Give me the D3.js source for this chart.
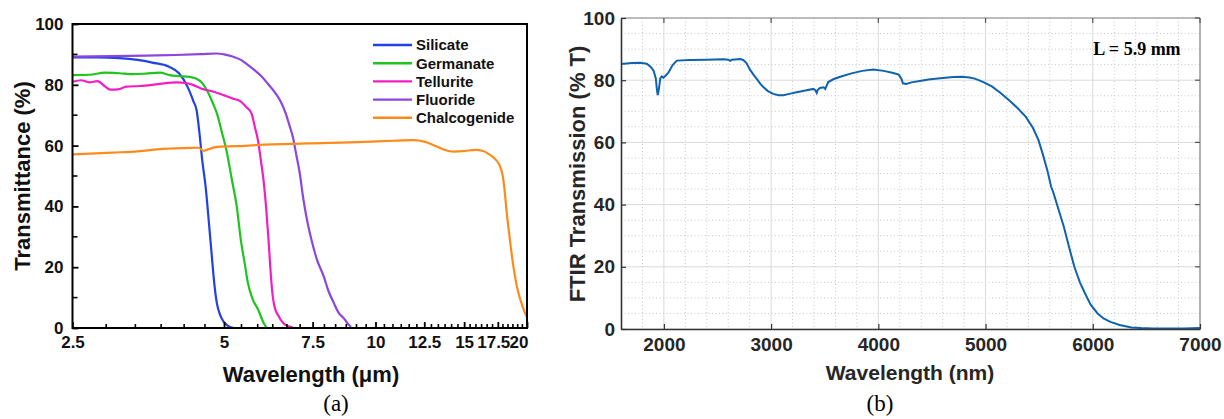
<!DOCTYPE html>
<html>
<head>
<meta charset="utf-8">
<script src="https://d3js.org/d3.v7.min.js"></script>
<style>
  body { margin: 0; background: #fff; }
  svg { display: block; }
  .lbl { font-family: "Liberation Sans", Arial, sans-serif; font-weight: bold; }
  .serif { font-family: "Liberation Serif", "Times New Roman", serif; }
</style>
</head>
<body>
<svg id="fig" width="1224" height="419"></svg>
<script>
// ---- panel (a): glass transmittance vs wavelength (um, %) ----
var silicate = [[2.5,89.0],[2.8,89.0],[3.1,88.8],[3.37,88.2],[3.6,87.3],[3.88,86.0],[4.07,83.8],[4.23,79.4],[4.35,74.5],[4.41,71.7],[4.47,64.0],[4.52,56],[4.6,46],[4.67,34],[4.73,23.5],[4.78,15],[4.84,8.1],[4.92,4],[4.99,2.1],[5.1,0.6],[5.23,0]];
var germanate = [[2.5,83.2],[2.7,83.3],[2.9,84.0],[3.1,83.8],[3.3,83.5],[3.5,83.7],[3.73,84.0],[3.9,83.2],[4.03,82.9],[4.28,82.6],[4.48,81.3],[4.62,78.3],[4.75,74],[4.84,70.6],[4.95,64.5],[5.07,57.5],[5.18,49],[5.3,40],[5.40,29],[5.5,21],[5.58,14.7],[5.7,9.5],[5.85,5.9],[5.98,2],[6.08,0]];
var tellurite = [[2.5,81.0],[2.6,81.5],[2.7,80.8],[2.8,81.2],[2.9,79.5],[2.97,78.4],[3.08,78.5],[3.2,79.4],[3.4,79.6],[3.6,80.0],[3.73,80.3],[4.03,80.8],[4.2,80.6],[4.35,79.9],[4.5,78.8],[4.75,77.8],[4.99,76.6],[5.2,75.5],[5.4,74.5],[5.55,72.5],[5.67,70.6],[5.76,66],[5.84,61.8],[5.92,55],[5.99,48.7],[6.06,40],[6.13,29],[6.18,20],[6.23,12.5],[6.3,7],[6.43,3.7],[6.6,1.2],[6.85,0.2]];
var fluoride = [[2.5,89.3],[3.0,89.4],[3.5,89.6],[4.0,89.8],[4.5,90.1],[4.84,90.3],[5.0,90.0],[5.2,89.3],[5.4,88.2],[5.55,86.8],[5.75,84.8],[5.94,82.7],[6.1,80.5],[6.33,77.2],[6.48,74.5],[6.63,70.6],[6.75,66.5],[6.85,62.9],[6.96,57],[7.07,51],[7.18,43],[7.3,36],[7.46,29],[7.65,22.5],[7.89,17],[8.05,12.5],[8.27,8.1],[8.45,5],[8.67,3.0],[8.8,1.5],[8.94,0.4]];
var chalcogenide = [[2.5,57.1],[3.0,57.7],[3.37,58.1],[3.77,58.9],[4.2,59.2],[4.45,59.3],[4.55,58.3],[4.62,58.6],[4.84,59.6],[5.3,59.8],[5.84,60.2],[7.3,60.7],[9.5,61.2],[10.8,61.6],[11.9,61.8],[12.5,61.3],[13.2,59.8],[13.9,58.3],[14.35,58.0],[15.0,58.2],[15.8,58.6],[16.3,58.3],[16.8,57.2],[17.35,55.3],[17.7,53],[17.9,50],[18.05,45.4],[18.2,39],[18.5,28.9],[18.8,20],[19.1,13.6],[19.6,7.0],[20,3.5]];
var glassNames = ["Silicate","Germanate","Tellurite","Fluoride","Chalcogenide"];
var glassColors = ["#2141e6","#1fc41f","#f21ec4","#8c46e0","#ff8a1c"];
var xTicksA = [2.5,5,7.5,10,12.5,15,17.5,20];
var yTicksA = [0,20,40,60,80,100];

// ---- panel (b): FTIR transmission (nm, %) ----
var ftir = [[1600,85.2],[1700,85.5],[1780,85.6],[1840,85.3],[1880,84.2],[1905,83.0],[1925,80.5],[1935,77],[1943,75.2],[1950,76.5],[1958,78.3],[1966,80.6],[1980,81.2],[1995,80.8],[2010,81.3],[2042,82.4],[2080,84.8],[2120,86.3],[2244,86.5],[2400,86.6],[2554,86.7],[2600,86.6],[2617,86.2],[2635,86.6],[2710,86.8],[2740,86.5],[2770,85.5],[2803,83.4],[2835,81.8],[2866,80.4],[2900,78.8],[2927,77.8],[2970,76.5],[3020,75.6],[3070,75.2],[3114,75.2],[3170,75.6],[3238,76.1],[3320,76.7],[3393,77.2],[3412,76.8],[3425,75.9],[3435,76.9],[3456,77.5],[3490,77.7],[3505,77.2],[3515,78.0],[3533,79.4],[3580,80.3],[3645,81.1],[3750,82.2],[3850,83.0],[3953,83.4],[4050,83.0],[4130,82.4],[4190,81.8],[4215,80.5],[4229,79.0],[4260,78.8],[4308,79.3],[4400,79.8],[4467,80.2],[4600,80.7],[4700,81.0],[4783,81.1],[4850,80.9],[4900,80.5],[4980,79.4],[5059,78.0],[5140,75.9],[5217,73.6],[5300,71.0],[5374,68.3],[5440,64.8],[5493,60.8],[5540,55.5],[5580,50.5],[5611,45.8],[5631,44.0],[5680,38.5],[5730,32.9],[5780,26.2],[5828,20.0],[5880,15.0],[5927,11.5],[5980,7.8],[6045,5.0],[6100,3.4],[6164,2.3],[6250,1.3],[6361,0.5],[6450,0.3],[6560,0.2],[6700,0.2],[6850,0.2],[7000,0.3]];
var xTicksB = [2000,3000,4000,5000,6000,7000];
var yTicksB = [0,20,40,60,80,100];

var svg = d3.select("#fig");
svg.append("rect").attr("width",1224).attr("height",419).attr("fill","#fff");

// ================= panel (a) =================
var A = {l:72.5, r:527, t:24, b:328};
var xA = d3.scaleLog().domain([2.5,20]).range([A.l,A.r]);
var yA = d3.scaleLinear().domain([0,100]).range([A.b,A.t]);
var gA = svg.append("g");

var series = [silicate, germanate, tellurite, fluoride, chalcogenide];
var lineA = d3.line().x(function(d){return xA(d[0]);}).y(function(d){return yA(d[1]);}).curve(d3.curveMonotoneX);
series.forEach(function(s,i){
  gA.append("path").datum(s).attr("d",lineA).attr("fill","none")
    .attr("stroke",glassColors[i]).attr("stroke-width",2.2);
});

// minor ticks
var minorX = d3.range(1,43).map(function(i){return 2.5 + i*2.5/6;})
  .filter(function(v){return v < 19.99 && Math.abs(v/2.5 - Math.round(v/2.5)) > 0.01;});
gA.selectAll(".mx").data(minorX).enter().append("line")
  .attr("x1",function(d){return xA(d);}).attr("x2",function(d){return xA(d);})
  .attr("y1",A.b).attr("y2",A.b-4).attr("stroke","#000").attr("stroke-width",1.6);
gA.selectAll(".my").data([10,30,50,70,90]).enter().append("line")
  .attr("x1",A.l).attr("x2",A.l+5).attr("y1",function(d){return yA(d);}).attr("y2",function(d){return yA(d);})
  .attr("stroke","#000").attr("stroke-width",1.6);

var axA = gA.append("g").attr("transform","translate(0,"+A.b+")")
  .call(d3.axisBottom(xA).tickValues(xTicksA).tickFormat(function(d){return String(d);})
    .tickSizeInner(-6).tickSizeOuter(0).tickPadding(8));
var ayA = gA.append("g").attr("transform","translate("+A.l+",0)")
  .call(d3.axisLeft(yA).tickValues(yTicksA).tickSizeInner(-6).tickSizeOuter(0).tickPadding(9));
[axA, ayA].forEach(function(g){
  g.select(".domain").remove();
  g.selectAll("line").attr("stroke","#000").attr("stroke-width",1.8);
  g.selectAll("text").attr("class","lbl").style("font-size","17px").attr("fill","#111");
});
axA.selectAll("text").filter(function(d){return d===17.5;}).attr("text-anchor","end").attr("dx",12);
axA.selectAll("text").filter(function(d){return d===20;}).attr("text-anchor","end").attr("dx",1);

gA.append("rect").attr("x",A.l).attr("y",A.t).attr("width",A.r-A.l).attr("height",A.b-A.t)
  .attr("fill","none").attr("stroke","#000").attr("stroke-width",2);

// legend
var leg = gA.append("g").attr("transform","translate(373,45)");
glassNames.forEach(function(n,i){
  var y = i*18.2;
  leg.append("line").attr("x1",0).attr("x2",39).attr("y1",y).attr("y2",y)
    .attr("stroke",glassColors[i]).attr("stroke-width",2.4);
  leg.append("text").attr("class","lbl").attr("x",43).attr("y",y).attr("dy","0.36em")
    .style("font-size","15px").attr("fill","#111").text(n);
});

gA.append("text").attr("class","lbl").attr("x",311).attr("y",382).attr("text-anchor","middle")
  .style("font-size","22px").attr("fill","#111").text("Wavelength (\u03bcm)");
gA.append("text").attr("class","lbl").attr("transform","translate(30,176) rotate(-90)")
  .attr("text-anchor","middle").style("font-size","22px").attr("fill","#111").text("Transmittance (%)");
gA.append("text").attr("class","serif").attr("x",336).attr("y",411).attr("text-anchor","middle")
  .style("font-size","23px").attr("fill","#000").text("(a)");

// ================= panel (b) =================
var B = {l:621, r:1200, t:18, b:329};
var xB = d3.scaleLinear().domain([1600,7000]).range([B.l,B.r]);
var yB = d3.scaleLinear().domain([0,100]).range([B.b,B.t]);
var gB = svg.append("g");

// grid: minor dotted then major solid
var minorGX = d3.range(1800,7000,200).filter(function(v){return v%1000!==0;});
var minorGY = d3.range(5,100,5).filter(function(v){return v%20!==0;});
gB.selectAll(".gx").data(minorGX).enter().append("line")
  .attr("x1",function(d){return xB(d);}).attr("x2",function(d){return xB(d);})
  .attr("y1",B.t).attr("y2",B.b).attr("stroke","#c8c8c8").attr("stroke-width",1).attr("stroke-dasharray","1,2.5");
gB.selectAll(".gy").data(minorGY).enter().append("line")
  .attr("x1",B.l).attr("x2",B.r).attr("y1",function(d){return yB(d);}).attr("y2",function(d){return yB(d);})
  .attr("stroke","#c8c8c8").attr("stroke-width",1).attr("stroke-dasharray","1,2.5");
gB.selectAll(".Gx").data(xTicksB).enter().append("line")
  .attr("x1",function(d){return xB(d);}).attr("x2",function(d){return xB(d);})
  .attr("y1",B.t).attr("y2",B.b).attr("stroke","#dadada").attr("stroke-width",1);
gB.selectAll(".Gy").data(yTicksB).enter().append("line")
  .attr("x1",B.l).attr("x2",B.r).attr("y1",function(d){return yB(d);}).attr("y2",function(d){return yB(d);})
  .attr("stroke","#dadada").attr("stroke-width",1);

// box (top/right lighter)
gB.append("line").attr("x1",B.l).attr("x2",B.r).attr("y1",B.t).attr("y2",B.t).attr("stroke","#8a8a8a").attr("stroke-width",1.2);
gB.append("line").attr("x1",B.r).attr("x2",B.r).attr("y1",B.t).attr("y2",B.b).attr("stroke","#8a8a8a").attr("stroke-width",1.2);

var lineB = d3.line().x(function(d){return xB(d[0]);}).y(function(d){return yB(d[1]);});
gB.append("path").datum(ftir).attr("d",lineB).attr("fill","none")
  .attr("stroke","#0f62ae").attr("stroke-width",2);

// top / right ticks
gB.selectAll(".tt").data(xTicksB).enter().append("line")
  .attr("x1",function(d){return xB(d);}).attr("x2",function(d){return xB(d);})
  .attr("y1",B.t).attr("y2",B.t+5).attr("stroke","#555").attr("stroke-width",1.2);
gB.selectAll(".rt").data(yTicksB).enter().append("line")
  .attr("x1",B.r).attr("x2",B.r-5).attr("y1",function(d){return yB(d);}).attr("y2",function(d){return yB(d);})
  .attr("stroke","#555").attr("stroke-width",1.2);

var axB = gB.append("g").attr("transform","translate(0,"+B.b+")")
  .call(d3.axisBottom(xB).tickValues(xTicksB).tickSizeInner(-5).tickSizeOuter(0).tickPadding(9).tickFormat(d3.format("d")));
var ayB = gB.append("g").attr("transform","translate("+B.l+",0)")
  .call(d3.axisLeft(yB).tickValues(yTicksB).tickSizeInner(-5).tickSizeOuter(0).tickPadding(6));
[axB, ayB].forEach(function(g){
  g.select(".domain").attr("stroke","#333").attr("stroke-width",1.6);
  g.selectAll(".tick line").attr("stroke","#333").attr("stroke-width",1.2);
  g.selectAll("text").attr("class","lbl").style("font-size","19px").attr("fill","#262626");
});

gB.append("text").attr("class","serif").attr("x",1137).attr("y",55).attr("text-anchor","middle")
  .style("font-size","18px").style("font-weight","bold").attr("fill","#000").text("L = 5.9 mm");
gB.append("text").attr("class","lbl").attr("x",910).attr("y",380).attr("text-anchor","middle")
  .style("font-size","21px").attr("fill","#262626").text("Wavelength (nm)");
gB.append("text").attr("class","lbl").attr("transform","translate(585,174) rotate(-90)")
  .attr("text-anchor","middle").style("font-size","22px").attr("fill","#262626").text("FTIR Transmission (% T)");
gB.append("text").attr("class","serif").attr("x",880).attr("y",411).attr("text-anchor","middle")
  .style("font-size","23px").attr("fill","#000").text("(b)");
</script>
</body>
</html>
